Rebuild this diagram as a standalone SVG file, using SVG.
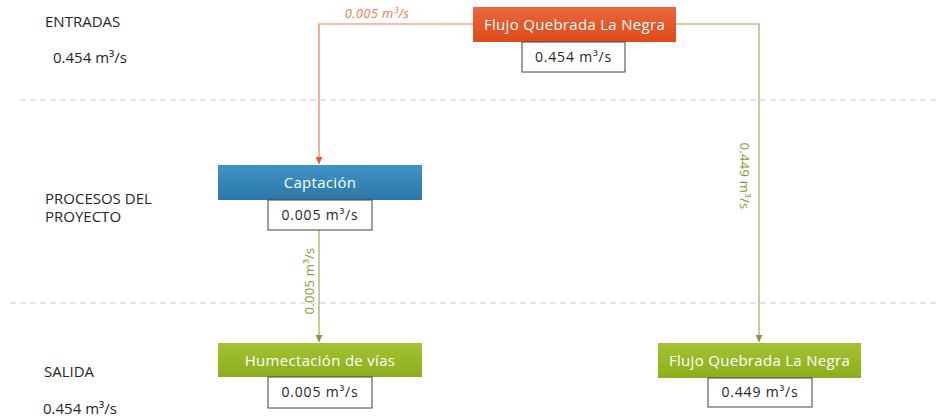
<svg xmlns="http://www.w3.org/2000/svg" width="939" height="418" viewBox="0 0 939 418">
<style>
text{font-family:"Open Sans","Liberation Sans",sans-serif}
.lbl{font-size:15px;fill:#262626}
.node{font-size:15px;fill:#ffffff;text-anchor:middle;letter-spacing:0.3px}
.val{font-size:14px;fill:#262626;text-anchor:middle;letter-spacing:0.8px}
.vbox{fill:#ffffff;stroke:#404040;stroke-width:1}
.dash{stroke:#c8c8c8;stroke-width:1;stroke-dasharray:6 4;fill:none}
.or{stroke:#ee7a55;stroke-width:1.2;fill:none}
.gr{stroke:#9aae5a;stroke-width:1.2;fill:none}
.cl{font-size:13px;text-anchor:middle;letter-spacing:0.3px}
</style>
<defs>
<linearGradient id="gOr" x1="0" y1="0" x2="0" y2="1"><stop offset="0" stop-color="#e9673f"/><stop offset="1" stop-color="#df4b19"/></linearGradient>
<linearGradient id="gBl" x1="0" y1="0" x2="0" y2="1"><stop offset="0" stop-color="#4193c6"/><stop offset="1" stop-color="#2b77a7"/></linearGradient>
<linearGradient id="gGr" x1="0" y1="0" x2="0" y2="1"><stop offset="0" stop-color="#a3c332"/><stop offset="1" stop-color="#8cad1c"/></linearGradient>
<marker id="aOr" viewBox="0 0 10 10" refX="10" refY="5" markerWidth="7" markerHeight="7" orient="auto" markerUnits="userSpaceOnUse"><path d="M0,0 L10,5 L0,10 z" fill="#e8552a"/></marker>
<marker id="aGr" viewBox="0 0 10 10" refX="10" refY="5" markerWidth="7" markerHeight="7" orient="auto" markerUnits="userSpaceOnUse"><path d="M0,0 L10,5 L0,10 z" fill="#7f9a2e"/></marker>
</defs>
<rect width="939" height="418" fill="#ffffff"/>
<g id="lanes">
<line class="dash" x1="20" y1="100" x2="939" y2="100"/>
<line class="dash" x1="10" y1="303" x2="939" y2="303"/>
<text class="lbl" x="45" y="27">ENTRADAS</text>
<text class="lbl" x="53" y="63">0.454 m³/s</text>
<text class="lbl" x="45" y="204">PROCESOS DEL</text>
<text class="lbl" x="45" y="222">PROYECTO</text>
<text class="lbl" x="44" y="377">SALIDA</text>
<text class="lbl" x="43" y="414">0.454 m³/s</text>
</g>
<g id="connectors">
<path class="or" d="M473,24 H319 V164" marker-end="url(#aOr)"/>
<text class="cl" x="377" y="18" font-style="italic" fill="#ee7a55">0.005 m³/s</text>
<path class="gr" d="M676,24 H759 V342" marker-end="url(#aGr)"/>
<text class="cl" transform="translate(740,176) rotate(90)" fill="#7f9a2e">0.449 m³/s</text>
<path class="gr" d="M319,230 V342" marker-end="url(#aGr)"/>
<text class="cl" transform="translate(314,281) rotate(-90)" fill="#7f9a2e">0.005 m³/s</text>
</g>
<g id="n-flujo-in">
<rect x="473" y="7" width="203" height="35" fill="url(#gOr)"/>
<text class="node" x="574.5" y="30">Flujo Quebrada La Negra</text>
<rect class="vbox" x="522" y="42" width="103" height="30"/>
<text class="val" x="573.5" y="62">0.454 m³/s</text>
</g>
<g id="n-captacion">
<rect x="218" y="165" width="204" height="35" fill="url(#gBl)"/>
<text class="node" x="320" y="188">Captación</text>
<rect class="vbox" x="268" y="200" width="104" height="30"/>
<text class="val" x="320" y="220">0.005 m³/s</text>
</g>
<g id="n-humectacion">
<rect x="218" y="343" width="204" height="34" fill="url(#gGr)"/>
<text class="node" x="320" y="366">Humectación de vías</text>
<rect class="vbox" x="268" y="377" width="104" height="31"/>
<text class="val" x="320" y="397">0.005 m³/s</text>
</g>
<g id="n-flujo-out">
<rect x="658" y="343" width="203" height="35" fill="url(#gGr)"/>
<text class="node" x="759.5" y="366">Flujo Quebrada La Negra</text>
<rect class="vbox" x="708" y="378" width="104" height="29"/>
<text class="val" x="760" y="397">0.449 m³/s</text>
</g>
</svg>
